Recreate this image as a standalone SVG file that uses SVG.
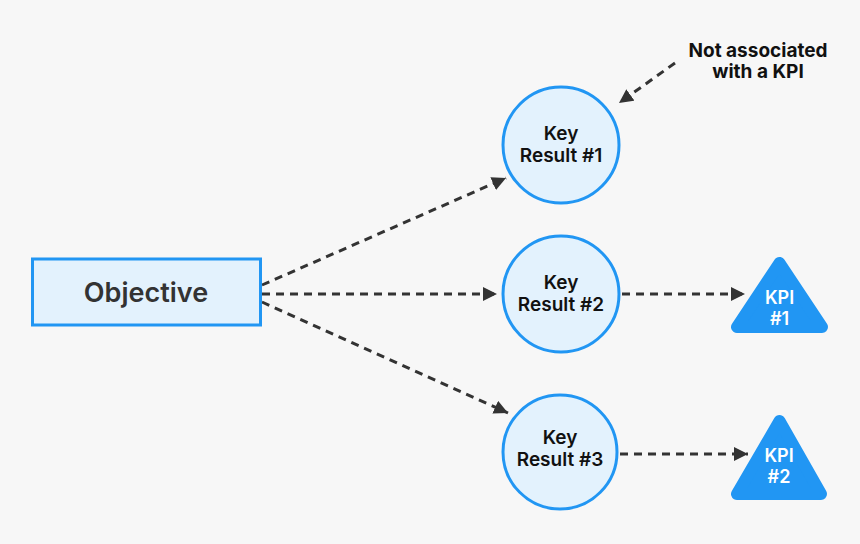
<svg xmlns="http://www.w3.org/2000/svg" width="860" height="544" viewBox="0 0 860 544">
<style>
.bg{fill:#f7f7f7}
.node{fill:#e3f2fd;stroke:#2196f3;stroke-width:3}
.tri{fill:#2196f3;stroke:#2196f3;stroke-width:12;stroke-linejoin:round}
.t{font-family:Inter,"Noto Sans","Liberation Sans",sans-serif;font-weight:600;text-anchor:middle}
.kr{font-size:19px;fill:#111}
.obj{font-size:27px;fill:#333}
.kpi{font-size:18px;fill:#fff}
.note{font-size:19px;fill:#111;font-weight:700}
.edge{fill:none;stroke:#333;stroke-width:3;stroke-dasharray:8 6}
</style>
<defs>
<marker id="ah" markerWidth="14" markerHeight="14" refX="14" refY="7" orient="auto" markerUnits="userSpaceOnUse" viewBox="0 0 14 14">
<path d="M0,0 L14,7 L0,14 Z" fill="#333"/>
</marker>
</defs>
<rect class="bg" x="0" y="0" width="860" height="544"/>
<g id="connectors">
<line class="edge" x1="262" y1="285" x2="506" y2="178" marker-end="url(#ah)"/>
<line class="edge" x1="262" y1="294" x2="497" y2="294" marker-end="url(#ah)"/>
<line class="edge" x1="262" y1="302" x2="508" y2="413" marker-end="url(#ah)"/>
<line class="edge" x1="622" y1="294" x2="745" y2="294" marker-end="url(#ah)"/>
<line class="edge" x1="620" y1="454" x2="748" y2="454" marker-end="url(#ah)"/>
<line class="edge" x1="675" y1="63" x2="619" y2="103" marker-end="url(#ah)"/>
</g>
<g id="objective">
<rect class="node" x="32.5" y="259" width="228" height="66"/>
<text class="t obj" x="146" y="302">Objective</text>
</g>
<g id="kr1">
<circle class="node" cx="561" cy="145" r="58"/>
<text class="t kr" x="561" y="140">Key</text>
<text class="t kr" x="561" y="162">Result #1</text>
</g>
<g id="kr2">
<circle class="node" cx="561" cy="294" r="58"/>
<text class="t kr" x="561" y="289">Key</text>
<text class="t kr" x="561" y="311">Result #2</text>
</g>
<g id="kr3">
<circle class="node" cx="560" cy="452" r="57"/>
<text class="t kr" x="560" y="444">Key</text>
<text class="t kr" x="560" y="466">Result #3</text>
</g>
<g id="kpi1">
<polygon class="tri" points="779.5,263 737,327 822,327"/>
<text class="t kpi" x="779.5" y="304">KPI</text>
<text class="t kpi" x="779.5" y="325">#1</text>
</g>
<g id="kpi2">
<polygon class="tri" points="779.5,421 737,494 821,494"/>
<text class="t kpi" x="779" y="462">KPI</text>
<text class="t kpi" x="779" y="483">#2</text>
</g>
<g id="note">
<text class="t note" x="758" y="57">Not associated</text>
<text class="t note" x="758" y="78">with a KPI</text>
</g>
</svg>
